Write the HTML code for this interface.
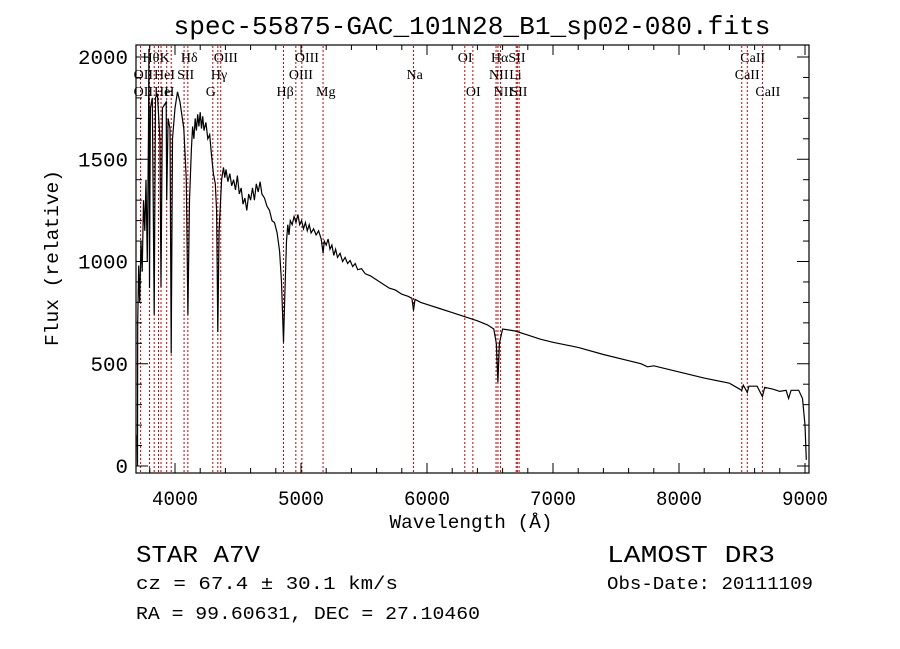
<!DOCTYPE html>
<html><head><meta charset="utf-8"><style>
html,body{margin:0;padding:0;background:#fff;width:900px;height:649px;overflow:hidden}
svg text{font-family:"Liberation Mono",monospace;fill:#000}
.lbl{font-family:"Liberation Serif",serif;font-size:14px}
</style></head><body>
<svg id="chart" width="900" height="649" viewBox="0 0 900 649" xmlns="http://www.w3.org/2000/svg">
<rect width="900" height="649" fill="#fff"/>
<text x="472" y="34" font-size="26" text-anchor="middle" textLength="597" lengthAdjust="spacingAndGlyphs">spec-55875-GAC_101N28_B1_sp02-080.fits</text>
<g id="lines"></g>
<g id="labels"></g>
<path id="spec" fill="none" stroke="#000" stroke-width="1.2"/>
<g id="axes"></g>
<rect x="136" y="45" width="673" height="428" fill="none" stroke="#000" stroke-width="1.2"/>
<text x="471" y="528" font-size="19" text-anchor="middle" textLength="163" lengthAdjust="spacingAndGlyphs">Wavelength (Å)</text>
<text transform="translate(58,258) rotate(-90)" font-size="19" text-anchor="middle" textLength="176" lengthAdjust="spacingAndGlyphs">Flux (relative)</text>
<text x="136" y="562" font-size="24" textLength="124" lengthAdjust="spacingAndGlyphs">STAR    A7V</text>
<text x="136" y="589" font-size="18" textLength="262" lengthAdjust="spacingAndGlyphs">cz = 67.4 ± 30.1 km/s</text>
<text x="136" y="619" font-size="18" textLength="344" lengthAdjust="spacingAndGlyphs">RA =  99.60631, DEC =  27.10460</text>
<text x="607" y="562" font-size="24" textLength="168" lengthAdjust="spacingAndGlyphs">LAMOST DR3</text>
<text x="607" y="589" font-size="18" textLength="206" lengthAdjust="spacingAndGlyphs">Obs-Date: 20111109</text>
</svg>
<script>
const wave=[3700,3702,3704,3712,3720,3730,3740,3750,3760,3770,3780,3790,3793,3798,3805,3820,3835,3845,3860,3880,3889,3900,3930,3934,3945,3960,3970,3980,4000,4020,4040,4070,4090,4102,4115,4130,4140,4150,4160,4170,4180,4190,4200,4210,4220,4230,4245,4260,4275,4290,4305,4320,4330,4340,4350,4370,4385,4395,4405,4420,4435,4450,4465,4480,4495,4510,4525,4540,4555,4570,4585,4600,4615,4630,4645,4660,4675,4690,4710,4730,4750,4770,4790,4810,4830,4845,4861,4872,4885,4895,4905,4915,4930,4945,4960,4975,4990,5005,5020,5035,5050,5065,5080,5100,5120,5140,5160,5175,5185,5200,5215,5230,5245,5260,5275,5290,5310,5330,5350,5370,5390,5410,5430,5450,5480,5510,5550,5600,5650,5700,5750,5800,5850,5880,5893,5905,5950,6000,6100,6200,6300,6400,6480,6530,6550,6563,6575,6600,6700,6800,6900,7000,7200,7400,7600,7700,7750,7800,8000,8200,8400,8498,8510,8542,8555,8620,8662,8680,8750,8800,8850,8870,8890,8950,8980,9000,9010];
const flux=[150,0,700,980,800,1100,950,1300,1150,1400,1000,1650,2040,870,1750,1800,740,1800,1820,1600,875,1750,1780,1300,1700,1650,550,1600,1750,1830,1780,1650,1400,740,1300,1550,1660,1600,1700,1640,1720,1660,1730,1650,1710,1640,1680,1600,1620,1520,1430,1380,1250,655,1150,1400,1460,1410,1450,1390,1430,1370,1400,1350,1420,1330,1360,1280,1310,1250,1330,1300,1360,1300,1380,1340,1390,1330,1310,1270,1250,1200,1190,1140,1050,900,605,850,1100,1180,1130,1200,1180,1220,1190,1230,1180,1200,1160,1190,1150,1180,1140,1160,1130,1150,1110,1040,1100,1080,1110,1060,1080,1030,1060,1020,1040,1000,1020,990,1005,975,990,960,965,940,930,910,890,870,860,840,830,820,760,815,800,790,770,750,730,710,690,670,600,410,600,670,660,640,620,605,580,545,515,500,485,490,460,430,405,370,395,360,390,390,340,385,375,365,370,330,370,370,330,200,30];
const lineWaves=[3727,3798,3835,3869,3889,3934,3970,4072,4102,4300,4340,4363,4861,4959,5007,5175,5893,6300,6364,6548,6563,6584,6708,6717,6731,8498,8542,8662];
const labelText=["Hθ","K","Hδ","OIII","OIII","OI","HαSII","OII","HeI","SII","Hγ","OIII","Na","NII","Li","CaII","CaII","OII","He","H","G","Hβ","Mg","OI","NII","SII","CaII"];
const labelWave=[3798,3934,4102,4363,5007,6300,6563,3727,3889,4072,4340,4959,5893,6548,6708,8542,8498,3727,3889,3970,4300,4861,5175,6364,6584,6717,8662];
const labelRow=[0,0,0,0,0,0,0,1,1,1,1,1,1,1,1,0,1,2,2,2,2,2,2,2,2,2,2];
const xTicks=[4000,5000,6000,7000,8000,9000];
const yTicks=[0,500,1000,1500,2000];
const NS="http://www.w3.org/2000/svg";
function X(w){return 175+(w-4000)*0.126;}
function Y(f){return 466-f*0.2045;}
function mk(t,a,p){const e=document.createElementNS(NS,t);for(const k in a)e.setAttribute(k,a[k]);p.appendChild(e);return e;}
const lg=document.getElementById('lines');
lineWaves.forEach(w=>{const l=mk('line',{x1:X(w),x2:X(w),y1:46,y2:472,stroke:'#c00000','stroke-width':1,'stroke-dasharray':'2,2'},lg);

});
const lb=document.getElementById('labels');
labelText.forEach((t,i)=>{const e=mk('text',{x:X(labelWave[i])-7,y:62+labelRow[i]*17,class:'lbl'},lb);e.textContent=t;

});
let d='';wave.forEach((w,i)=>{d+=(i?'L':'M')+X(w).toFixed(1)+','+Y(flux[i]).toFixed(1);});
document.getElementById('spec').setAttribute('d',d);
const ax=document.getElementById('axes');
for(let w=3800;w<=9000;w+=200){const big=w%1000===0;mk('line',{x1:X(w),x2:X(w),y1:473,y2:473-(big?10:5),stroke:'#000'},ax);mk('line',{x1:X(w),x2:X(w),y1:45,y2:45+(big?10:5),stroke:'#000'},ax);}
xTicks.forEach(w=>{const t=mk('text',{x:X(w),y:505,'font-size':20,'text-anchor':'middle',textLength:46,lengthAdjust:'spacingAndGlyphs'},ax);t.textContent=w;

});
for(let f=0;f<=2000;f+=100){const big=f%500===0;mk('line',{x1:136,x2:136+(big?12:6),y1:Y(f),y2:Y(f),stroke:'#000'},ax);mk('line',{x1:809,x2:809-(big?12:6),y1:Y(f),y2:Y(f),stroke:'#000'},ax);}
yTicks.forEach(f=>{const s=String(f);const t=mk('text',{x:128,y:Y(f)+7,'font-size':20,'text-anchor':'end',textLength:s.length*12.5,lengthAdjust:'spacingAndGlyphs'},ax);t.textContent=s;

});
</script>
</body></html>
